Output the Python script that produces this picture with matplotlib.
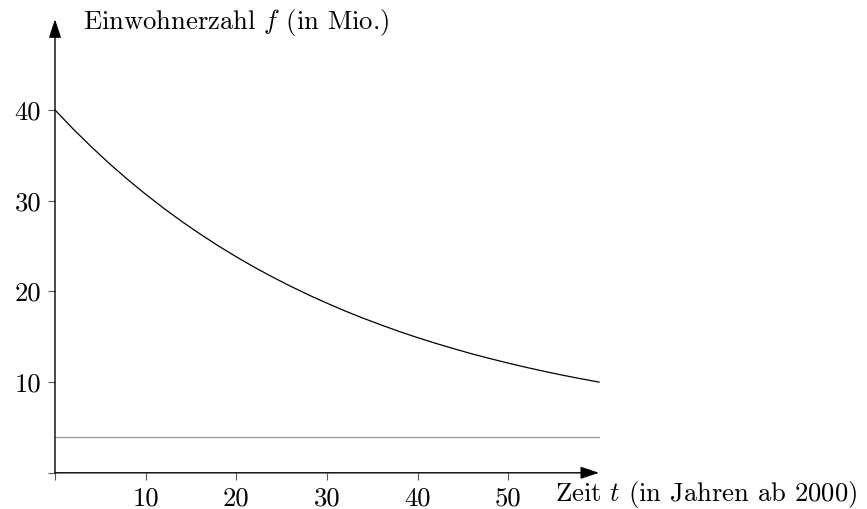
import matplotlib
matplotlib.use("Agg")
import matplotlib.pyplot as plt

plt.rcParams["font.family"] = "serif"
plt.rcParams["font.serif"] = ["cmr10", "DejaVu Serif"]
plt.rcParams["mathtext.fontset"] = "cm"
plt.rcParams["axes.formatter.use_mathtext"] = True

# data
years = [0, 2, 4, 6, 8, 10, 12, 14, 16, 18, 20, 22, 24, 26, 28, 30,
         32, 34, 36, 38, 40, 42, 44, 46, 48, 50, 52, 54, 56, 58, 60]
population = [40.00, 37.91, 35.95, 34.09, 32.35, 30.71, 29.16, 27.70, 26.33, 25.03,
              23.81, 22.66, 21.58, 20.56, 19.60, 18.70, 17.84, 17.04, 16.29, 15.57,
              14.90, 14.27, 13.68, 13.11, 12.59, 12.09, 11.62, 11.18, 10.76, 10.37, 10.00]
baseline_level = 4
xticks = [0, 10, 20, 30, 40, 50]
xticklabels = ["", "10", "20", "30", "40", "50"]
yticks = [0, 10, 20, 30, 40]
yticklabels = ["", "10", "20", "30", "40"]
ylabel_text = r"Einwohnerzahl $f$ (in Mio.)"
xlabel_text = r"Zeit $t$ (in Jahren ab 2000)"

W, H = 867, 509
fig = plt.figure(figsize=(W / 100, H / 100), dpi=100)
x0, x1 = 55, 599
y0, y1 = 472.8, 19.3
ax = fig.add_axes([x0 / W, (H - y0) / H, (x1 - x0) / W, (y0 - y1) / H])
ax.set_xlim(0, 60)
ax.set_ylim(0, 50)
ax.patch.set_visible(False)
for s in ax.spines.values():
    s.set_visible(False)

fs = 19.2
ax.set_xticks(xticks)
ax.set_xticklabels(xticklabels)
ax.set_yticks(yticks)
ax.set_yticklabels(yticklabels)
ax.tick_params(direction="out", length=5, width=0.8, color="#555555",
               labelsize=fs, pad=5)

ax.plot(years, population, color="black", lw=0.9, clip_on=False)
ax.plot([0, 60], [baseline_level, baseline_level], color="#999999", lw=0.9, clip_on=False)

arrow = dict(arrowstyle="-|>,head_length=0.75,head_width=0.25", color="black",
             lw=1.0, mutation_scale=15, shrinkA=0, shrinkB=0)
ax.annotate("", xy=(1.0, 0), xytext=(0, 0), xycoords="axes fraction",
            textcoords="axes fraction", arrowprops=arrow, annotation_clip=False)
ax.annotate("", xy=(0, 1.0), xytext=(0, 0), xycoords="axes fraction",
            textcoords="axes fraction", arrowprops=arrow, annotation_clip=False)

ax.text(3.1, 48.9, ylabel_text, fontsize=fs, ha="left", va="baseline")
ax.text(55.2, -3.1, xlabel_text, fontsize=fs, ha="left", va="baseline")

fig.savefig("out.png", dpi=100)
